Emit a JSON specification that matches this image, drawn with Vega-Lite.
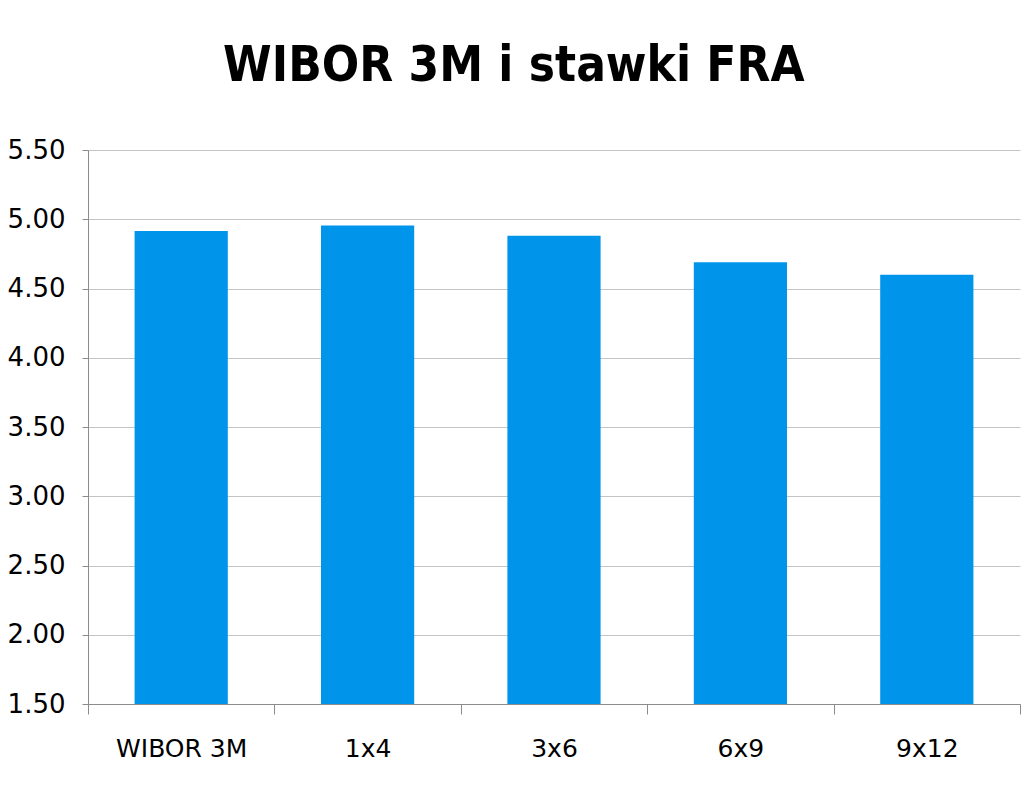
{
  "$schema": "https://vega.github.io/schema/vega-lite/v6.json",
  "description": "WIBOR 3M i stawki FRA",
  "autosize": "none",
  "width": 932,
  "height": 554,
  "padding": {"left": 88, "top": 150, "right": 4, "bottom": 87},
  "background": "white",
  "title": {
    "text": "WIBOR 3M i stawki FRA",
    "font": "DejaVu Sans Condensed",
    "fontWeight": "bold",
    "fontSize": 49,
    "color": "#000000",
    "anchor": "middle",
    "frame": "bounds",
    "offset": 46
  },
  "data": {
    "values": [
      {"tenor": "WIBOR 3M", "rate": 4.915},
      {"tenor": "1x4", "rate": 4.955},
      {"tenor": "3x6", "rate": 4.88},
      {"tenor": "6x9", "rate": 4.69},
      {"tenor": "9x12", "rate": 4.60}
    ]
  },
  "mark": {"type": "bar", "color": "#0094EB", "width": {"band": 0.5}, "clip": true},
  "encoding": {
    "x": {
      "field": "tenor",
      "type": "nominal",
      "sort": null,
      "title": null,
      "scale": {"paddingInner": 0, "paddingOuter": 0},
      "axis": {
        "tickBand": "extent",
        "labelAngle": 0,
        "labelFont": "DejaVu Sans",
        "labelFontSize": 25,
        "labelColor": "#000000",
        "labelPadding": 22,
        "tickSize": 10,
        "tickColor": "#8c8c8c",
        "domainColor": "#8c8c8c",
        "grid": false
      }
    },
    "y": {
      "field": "rate",
      "type": "quantitative",
      "title": null,
      "scale": {"domain": [1.5, 5.5], "nice": false, "zero": false},
      "axis": {
        "values": [1.5, 2, 2.5, 3, 3.5, 4, 4.5, 5, 5.5],
        "format": ".2f",
        "labelFont": "DejaVu Sans",
        "labelFontSize": 26,
        "labelColor": "#000000",
        "labelPadding": 17,
        "tickSize": 6,
        "tickColor": "#8c8c8c",
        "domainColor": "#8c8c8c",
        "gridColor": "#c4c4c4",
        "gridWidth": 1
      }
    }
  },
  "config": {
    "view": {"stroke": null}
  }
}
